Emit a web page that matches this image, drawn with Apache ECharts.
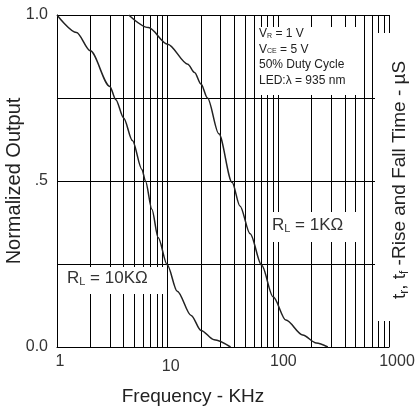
<!DOCTYPE html>
<html><head><meta charset="utf-8">
<script src="https://cdn.jsdelivr.net/npm/echarts@6/dist/echarts.min.js"></script>
<style>html,body{margin:0;padding:0;background:#fff}#c{width:417px;height:411px}</style>
</head><body><div id="c"></div>
<script>
// Data
var freq10K = [1, 1.5, 2, 3, 3.4, 4, 4.8, 5.85, 6.3, 7.2, 8.2, 9.9, 12.2, 16.3, 20, 26.3, 37];
var out10K  = [1.0, 0.947, 0.892, 0.785, 0.745, 0.69, 0.622, 0.535, 0.5, 0.415, 0.33, 0.248, 0.168, 0.095, 0.05, 0.022, 0];
var freq1K  = [4.45, 6.7, 10, 15.2, 17.5, 20, 22.9, 29, 38.2, 45, 55.6, 70.7, 89.7, 117, 166, 220, 280];
var out1K   = [1.0, 0.962, 0.912, 0.852, 0.827, 0.792, 0.75, 0.642, 0.496, 0.425, 0.341, 0.246, 0.151, 0.081, 0.036, 0.012, 0];
var gridFreqs = [2,3,4,5,6,7,8,9,10,20,30,40,50,60,70,80,90,100,200,300,400,500,600,700,800,900,1000];
var xTickLabels = {1:'1', 10:'10', 100:'100', 1000:'1000'};
var yTickLabels = {0:'0.0', 0.5:'.5', 1:'1.0'};

function pairs(xs, ys){ return xs.map(function(x,i){ return [x, ys[i]]; }); }

var chart = echarts.init(document.getElementById('c'), null, {renderer:'canvas'});
var FONT = 'Liberation Sans, Arial, sans-serif';
var LBL = {fontFamily: FONT, fontSize: 16, color: '#333'};
function lbl(pad){ return Object.assign({padding: pad}, LBL); }
var option = {
  animation: false,
  backgroundColor: '#fff',
  grid: {left: 57, right: 28, top: 15, bottom: 64, containLabel: false, outerBoundsMode: 'none'},
  xAxis: {
    type: 'log', logBase: 10, min: 1, max: 1000,
    name: 'Frequency - KHz', nameLocation: 'middle', nameGap: 40, nameMoveOverlap: false,
    nameTextStyle: {fontFamily: FONT, fontSize: 19, color: '#222', padding: [0, 60, 0, 0]},
    axisLine: {show: true, lineStyle: {color: '#000', width: 1}},
    axisTick: {show: false},
    splitLine: {show: false},
    axisLabel: {
      margin: 7, fontFamily: FONT, fontSize: 16, color: '#333',
      formatter: function(v){
        var r = Math.round(v);
        var t = xTickLabels[r];
        if (!t) return '';
        return '{l' + r + '|' + t + '}';
      },
      rich: {
        l1: lbl([0,0,0,6]),
        l10: lbl([5,0,0,6]),
        l100: lbl([0,0,0,10]),
        l1000: lbl([0,0,0,16])
      }
    }
  },
  yAxis: {
    type: 'value', min: 0, max: 1, interval: 0.25,
    name: 'Normalized Output', nameLocation: 'middle', nameGap: 33, nameMoveOverlap: false,
    nameTextStyle: {fontFamily: FONT, fontSize: 20, color: '#222'},
    axisLine: {show: true, lineStyle: {color: '#000', width: 1}},
    axisTick: {show: false},
    splitLine: {show: true, lineStyle: {color: '#000', width: 1}},
    axisLabel: {
      margin: 9, fontFamily: FONT, fontSize: 16, color: '#333',
      formatter: function(v){ var t = yTickLabels[Math.round(v*100)/100]; return t === undefined ? '' : t; }
    }
  },
  series: [
    {
      type: 'line', name: 'RL = 10K', data: pairs(freq10K, out10K),
      smooth: 0.3, smoothMonotone: 'x', showSymbol: false, symbol: 'none',
      lineStyle: {color: '#222', width: 1.5}, z: 20,
      markLine: {
        silent: true, symbol: ['none','none'], label: {show: false},
        lineStyle: {type: 'solid', color: '#000', width: 1},
        emphasis: {disabled: true},
        data: gridFreqs.map(function(f){ return {xAxis: f}; }),
        z: 3
      }
    },
    {
      type: 'line', name: 'RL = 1K', data: pairs(freq1K, out1K),
      smooth: 0.3, smoothMonotone: 'x', showSymbol: false, symbol: 'none',
      lineStyle: {color: '#222', width: 1.5}, z: 20
    }
  ],
  graphic: [
    // white masks behind annotations
    {type: 'rect', z: 50, shape: {x: 258, y: 27, width: 98, height: 68}, style: {fill: '#fff'}},
    {type: 'rect', z: 50, shape: {x: 268, y: 212, width: 92, height: 30}, style: {fill: '#fff'}},
    {type: 'rect', z: 50, shape: {x: 58, y: 267, width: 108, height: 27}, style: {fill: '#fff'}},
    {type: 'rect', z: 50, shape: {x: 375, y: 33, width: 42, height: 288}, style: {fill: '#fff'}},
    // condition legend
    {type: 'text', z: 60, left: 259, top: 26, style: {
      text: 'V{s|R} = 1 V\nV{s|CE} = 5 V\n50% Duty Cycle\nLED:λ = 935 nm',
      font: '12px ' + FONT, fill: '#222', lineHeight: 15.5,
      rich: {s: {font: '7px ' + FONT, fill: '#222', padding: [4,0,0,0]}}
    }},
    {type: 'text', z: 60, left: 272, top: 217, style: {
      text: 'R{s|L} = 1KΩ', font: '17px ' + FONT, fill: '#333',
      rich: {s: {font: '11px ' + FONT, fill: '#333', padding: [7,0,0,0]}}
    }},
    {type: 'text', z: 60, left: 67, top: 270, style: {
      text: 'R{s|L} = 10KΩ', font: '17px ' + FONT, fill: '#333',
      rich: {s: {font: '11px ' + FONT, fill: '#333', padding: [7,0,0,0]}}
    }},
    // right axis title
    {type: 'text', z: 60, x: 400, y: 180, rotation: Math.PI/2, style: {
      text: 't{s|r}, t{s|f} -Rise and Fall Time - µS',
      font: '19px ' + FONT, fill: '#222', align: 'center', verticalAlign: 'middle',
      rich: {s: {font: '12px ' + FONT, fill: '#222', padding: [9,0,0,0]}}
    }}
  ]
};
chart.setOption(option);
</script>
</body></html>
